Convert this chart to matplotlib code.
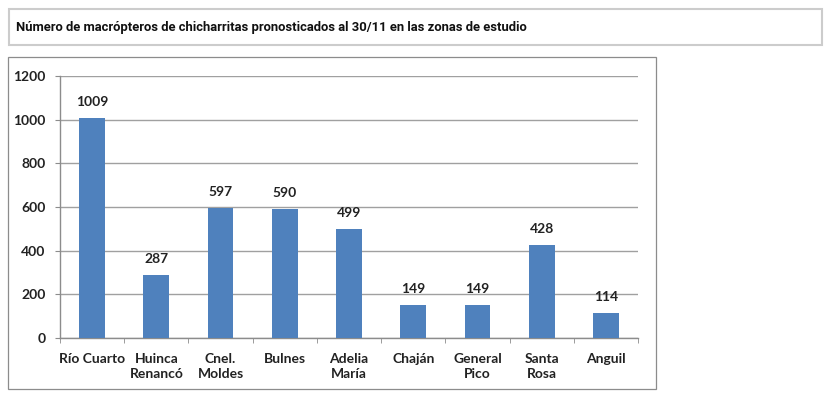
import matplotlib
matplotlib.use("Agg")
import matplotlib.pyplot as plt
from matplotlib.patches import Rectangle
import numpy as np

title = "Número de macrópteros de chicharritas pronosticados al 30/11 en las zonas de estudio"
zonas = ["Río Cuarto", "Huinca\nRenancó", "Cnel.\nMoldes", "Bulnes", "Adelia\nMaría",
         "Chaján", "General\nPico", "Santa\nRosa", "Anguil"]
macropteros = [1009, 287, 597, 590, 499, 149, 149, 428, 114]
y_ticks = [0, 200, 400, 600, 800, 1000, 1200]

W, H = 830, 398
fig = plt.figure(figsize=(W / 100, H / 100), dpi=100)


def px_box(x0, y0, x1, y1):
    # pixel box (top-left origin) -> figure fraction rect
    return [x0 / W, 1 - y1 / H, (x1 - x0) / W, (y1 - y0) / H]


# title box
r = px_box(9, 9, 822, 45)
fig.patches.append(Rectangle((r[0], r[1]), r[2], r[3], transform=fig.transFigure,
                             fill=False, edgecolor="#cccccc", linewidth=1.5))
fig.text(16 / W, 1 - 27 / H, title, family="Roboto", weight="bold", fontsize=9.4,
         color="#111111", va="center", ha="left")

# chart box
r = px_box(8, 57, 656, 389)
fig.patches.append(Rectangle((r[0], r[1]), r[2], r[3], transform=fig.transFigure,
                             fill=False, edgecolor="#8c8c8c", linewidth=0.9))

ax = fig.add_axes(px_box(60, 76, 638, 338))
x = np.arange(len(zonas))
bars = ax.bar(x, macropteros, width=0.4, color="#4f81bd", zorder=3)

lbl_font = dict(family="Lato", weight="bold", fontsize=10, color="#222222")

for b, v in zip(bars, macropteros):
    ax.annotate(str(v), (b.get_x() + b.get_width() / 2, v), xytext=(0, 11.5),
                textcoords="offset points", ha="center", va="center", **lbl_font)

ax.set_xlim(-0.5, len(zonas) - 0.5)
ax.set_ylim(0, 1200)
ax.set_yticks(y_ticks)
ax.set_xticks(x)
ax.set_xticklabels(zonas, linespacing=1.3, **lbl_font)
ax.set_xticks(np.arange(len(zonas) + 1) - 0.5, minor=True)
for lab in ax.get_yticklabels():
    lab.set_family("Lato")
    lab.set_weight("bold")
    lab.set_fontsize(10)
    lab.set_color("#222222")

ax.tick_params(axis="x", which="major", length=0, pad=11)
ax.tick_params(axis="x", which="minor", length=3.5, color="#8c8c8c", direction="out")
ax.tick_params(axis="y", length=3.5, color="#8c8c8c", pad=7)

ax.yaxis.grid(True, color="#a0a0a0", linewidth=1.0, zorder=0)
ax.set_axisbelow(True)
for s in ["top", "right"]:
    ax.spines[s].set_visible(False)
for s in ["left", "bottom"]:
    ax.spines[s].set_color("#8c8c8c")
    ax.spines[s].set_linewidth(1.0)

fig.savefig("out.png", dpi=100)
